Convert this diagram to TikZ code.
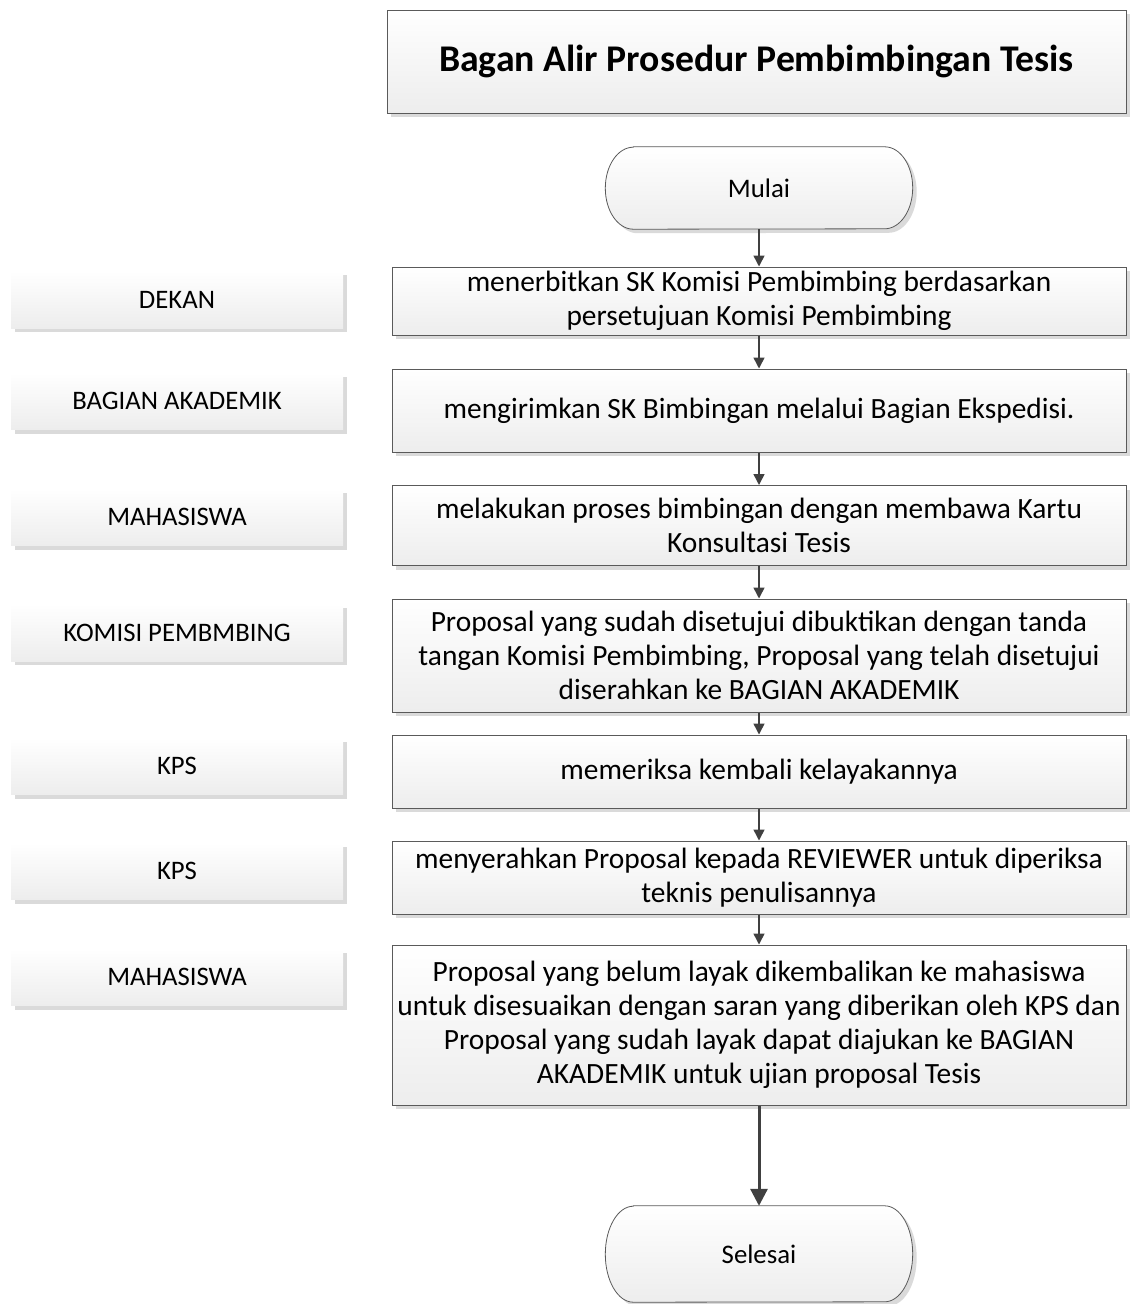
\documentclass[tikz,border=0pt]{standalone}
\usepackage{fontspec}
\setmainfont{Carlito}
\usetikzlibrary{shadows,arrows.meta,backgrounds}

\definecolor{edgegray}{HTML}{5A5A5A}
\definecolor{arrowgray}{HTML}{404040}
\definecolor{shadegray}{HTML}{EDEDED}
\definecolor{shadowgray}{HTML}{DADADA}

\tikzset{
  softfill/.style={top color=white, bottom color=shadegray,
    drop shadow={shadow xshift=4pt, shadow yshift=-4pt, fill=shadowgray, opacity=1}},
  base/.style={softfill, inner sep=0pt, align=center},
  actbox/.style={base, draw=edgegray, line width=1pt, minimum width=734pt,
    font=\fontsize{29.4}{34}\selectfont},
  titlebox/.style={base, draw=edgegray, line width=1pt, minimum width=739pt,
    minimum height=103pt, font=\fontsize{37.7}{44}\selectfont\bfseries},
  rolebox/.style={base, minimum width=332pt, minimum height=57pt,
    font=\fontsize{26.7}{32}\selectfont},
  termbox/.style={inner sep=0pt, minimum width=307pt,
    font=\fontsize{26.8}{32}\selectfont},
  termline/.style={softfill, draw=edgegray, line width=0.8pt},
  flow/.style={draw=arrowgray, line width=1.5pt, -{Triangle[length=11pt,width=11pt]}},
  flowbig/.style={draw=arrowgray, line width=3pt, -{Triangle[length=17pt,width=17pt]}},
}

% outline of a terminator: straight top and bottom, half-elliptic ends
\newcommand\termoutline[2]{%
  \path[termline] ([xshift=28pt]#1.north west) -- ([xshift=-28pt]#1.north east)
    arc[start angle=90, end angle=-90, x radius=28pt, y radius=#2]
    -- ([xshift=28pt]#1.south west)
    arc[start angle=270, end angle=90, x radius=28pt, y radius=#2] -- cycle;}

\begin{document}
\begin{tikzpicture}[x=1pt, y=-1pt]
  \useasboundingbox (0,0) rectangle (1130,1304);

  % heading
  \node[titlebox] (title) at (756.5,61.5) {Bagan Alir Prosedur Pembimbingan Tesis};

  % start / end terminators
  \node[termbox, minimum height=82pt] (start) at (759,188) {Mulai};
  \node[termbox, minimum height=96pt] (finish) at (759,1254) {Selesai};
  \begin{pgfonlayer}{background}
    \termoutline{start}{41pt}
    \termoutline{finish}{48pt}
  \end{pgfonlayer}

  % activity boxes
  \node[actbox, minimum height=68pt]  (b1) at (759,301)
    {menerbitkan SK Komisi Pembimbing berdasarkan\\persetujuan Komisi Pembimbing};
  \node[actbox, minimum height=83pt]  (b2) at (759,410.5)
    {mengirimkan SK Bimbingan melalui Bagian Ekspedisi.};
  \node[actbox, minimum height=80pt]  (b3) at (759,525.5)
    {melakukan proses bimbingan dengan membawa Kartu\\Konsultasi Tesis};
  \node[actbox, minimum height=113pt] (b4) at (759,655.5)
    {Proposal yang sudah disetujui dibuktikan dengan tanda\\tangan Komisi Pembimbing, Proposal yang telah disetujui\\diserahkan ke BAGIAN AKADEMIK};
  \node[actbox, minimum height=73pt]  (b5) at (759,771.5)
    {memeriksa kembali kelayakannya};
  \node[actbox, minimum height=73pt]  (b6) at (759,877.5)
    {menyerahkan Proposal kepada REVIEWER untuk diperiksa\\teknis penulisannya};
  \node[actbox, minimum height=160pt] (b7) at (759,1025)
    {Proposal yang belum layak dikembalikan ke mahasiswa\\untuk disesuaikan dengan saran yang diberikan oleh KPS dan\\Proposal yang sudah layak dapat diajukan ke BAGIAN\\AKADEMIK untuk ujian proposal Tesis};

  % role labels
  \node[rolebox] (r1) at (177,299.5) {DEKAN};
  \node[rolebox] (r2) at (177,401)   {BAGIAN AKADEMIK};
  \node[rolebox] (r3) at (177,517)   {MAHASISWA};
  \node[rolebox] (r4) at (177,632.5) {KOMISI PEMBMBING};
  \node[rolebox] (r5) at (177,766)   {KPS};
  \node[rolebox] (r6) at (177,871)   {KPS};
  \node[rolebox] (r7) at (177,977)   {MAHASISWA};

  % flow connectors
  \draw[flow] (start) -- (b1);
  \draw[flow] (b1) -- (b2);
  \draw[flow] (b2) -- (b3);
  \draw[flow] (b3) -- (b4);
  \draw[flow] (b4) -- (b5);
  \draw[flow] (b5) -- (b6);
  \draw[flow] (b6) -- (b7);
  \draw[flowbig] (b7) -- (finish);
\end{tikzpicture}
\end{document}
